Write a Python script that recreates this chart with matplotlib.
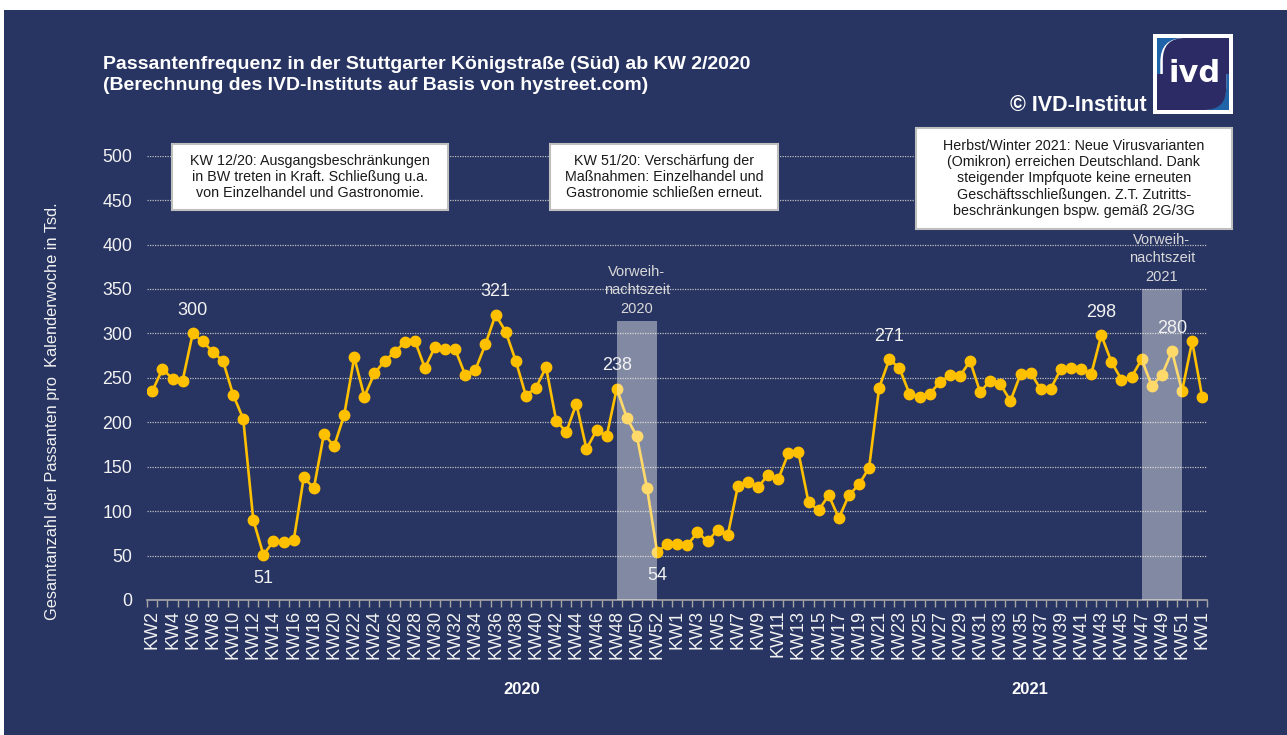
import matplotlib
matplotlib.use("Agg")
import matplotlib.pyplot as plt
from matplotlib.patches import Rectangle, FancyBboxPatch
import numpy as np

plt.rcParams['font.family'] = ['Liberation Sans', 'DejaVu Sans']

# ---------------- data ----------------
values_2020 = [235, 260, 249, 247, 300, 291, 279, 269, 231, 204, 90, 51, 66, 65, 67, 138,
               126, 187, 173, 208, 273, 229, 255, 269, 279, 290, 292, 261, 285, 282, 282,
               253, 259, 288, 321, 302, 269, 230, 239, 262, 202, 189, 221, 170, 191, 184,
               238, 205, 184, 126, 54, 63]               # KW2 .. KW53 (2020)
values_2021 = [63, 62, 76, 66, 79, 73, 128, 133, 127, 141, 136, 165, 166, 110, 101, 118,
               92, 118, 130, 149, 239, 271, 261, 232, 229, 232, 245, 253, 252, 269, 234,
               247, 243, 224, 254, 256, 237, 238, 260, 261, 260, 254, 298, 268, 248, 251,
               271, 241, 253, 280, 235, 291]             # KW1 .. KW52 (2021)
values_2022 = [228]                                      # KW1 (2022)

weeks_2020 = list(range(2, 54))
weeks_2021 = list(range(1, 53))
weeks_2022 = [1]

values = values_2020 + values_2021 + values_2022
week_labels = ["KW%d" % w for w in weeks_2020 + weeks_2021 + weeks_2022]

# labelled points: (index, text, position)
point_labels = [(4, "300", "above"), (11, "51", "below"), (34, "321", "above"),
                (46, "238", "above"), (50, "54", "below"), (73, "271", "above"),
                (94, "298", "above"), (101, "280", "above")]

# pre-Christmas shading (start index, end index, height, label)
shades = [(46, 50, 314, "Vorweih-\nnachtszeit\n2020"),
          (98, 102, 350, "Vorweih-\nnachtszeit\n2021")]

year_labels = ["2020", "2021"]

notes = ["KW 12/20: Ausgangsbeschränkungen\nin BW treten in Kraft. Schließung u.a.\nvon Einzelhandel und Gastronomie.",
         "KW 51/20: Verschärfung der\nMaßnahmen: Einzelhandel und\nGastronomie schließen erneut.",
         "Herbst/Winter 2021: Neue Virusvarianten\n(Omikron) erreichen Deutschland. Dank\nsteigender Impfquote keine erneuten\nGeschäftsschließungen. Z.T. Zutritts-\nbeschränkungen bspw. gemäß 2G/3G"]

title = "Passantenfrequenz in der Stuttgarter Königstraße (Süd) ab KW 2/2020\n(Berechnung des IVD-Instituts auf Basis von hystreet.com)"
ylabel = "Gesamtanzahl der Passanten pro  Kalenderwoche in Tsd."

# ---------------- styling ----------------
W, H = 1287, 735
NAVY = '#283562'
GOLD = '#FFC000'
TXT = '#F2F2F2'

fig = plt.figure(figsize=(W / 100, H / 100), dpi=100, facecolor='white')

def fx(x):
    return x / W

def fy(y):
    return 1 - y / H

fig.patches.append(Rectangle((fx(4), 0), 1 - fx(4), fy(10), transform=fig.transFigure,
                             facecolor=NAVY, edgecolor='none', zorder=-5))

ax = fig.add_axes([fx(147.3), fy(600), fx(1207.3) - fx(147.3), fy(155.7) - fy(600)])
ax.set_zorder(1)
ax.set_facecolor('none')
n = len(values)
x = np.arange(n)

ax.set_xlim(-0.5, n - 0.5)
ax.set_ylim(0, 500)
ax.set_yticks(np.arange(0, 501, 50))
ax.yaxis.grid(True, linestyle=(0, (1, 1)), color='#BFBFBF', linewidth=0.9)
ax.set_axisbelow(True)
for s in ['top', 'right', 'left']:
    ax.spines[s].set_visible(False)
ax.spines['bottom'].set_color('#A6A6A6')
ax.spines['bottom'].set_linewidth(1.2)
ax.tick_params(axis='y', length=0, labelsize=12.8, labelcolor=TXT, pad=11)

ax.set_xticks(x[::2])
ax.set_xticklabels(week_labels[::2], rotation=90, fontsize=13, color=TXT)
ax.set_xticks(np.arange(-0.5, n, 1), minor=True)
ax.tick_params(axis='x', which='major', length=0, pad=7)
ax.tick_params(axis='x', which='minor', length=5, color='#A6A6A6', width=1)

ax.plot(x, values, color=GOLD, linewidth=1.9, marker='o', markersize=7.5,
        markerfacecolor=GOLD, markeredgecolor=GOLD, zorder=3)

for s0, s1, h, lab in shades:
    ax.fill_between([s0, s1], 0, h, color='white', alpha=0.42, linewidth=0, zorder=4)
    ax.text((s0 + s1) / 2, h + 6, lab, ha='center', va='bottom', fontsize=10.5,
            color='#D9D9D9', linespacing=1.38, zorder=5)

for i, t, pos in point_labels:
    off = 16.5 if pos == 'above' else -17
    ax.annotate(t, (x[i], values[i]), xytext=(0, off), textcoords='offset points',
                ha='center', va='center', fontsize=13, color=TXT, zorder=6)

# year labels
fig.text(fx(522), fy(689), year_labels[0], ha='center', va='center', fontsize=12,
         fontweight='bold', color='white')
fig.text(fx(1030), fy(689), year_labels[1], ha='center', va='center', fontsize=12,
         fontweight='bold', color='white')

# y label
fig.text(fx(52.5), fy(411), ylabel, rotation=90, ha='center', va='center',
         fontsize=11.8, color=TXT)

# title
fig.text(fx(103), fy(75), title, ha='left', va='center', fontsize=14,
         fontweight='bold', color='white', linespacing=1.3)
fig.text(fx(1147), fy(105.5), "© IVD-Institut", ha='right', va='center', fontsize=15.5,
         fontweight='bold', color='white')

# annotation boxes
boxes = [(171.7, 144, 447.7, 210), (550.3, 144, 778.3, 210), (915.7, 128, 1232, 228.7)]
for (x0, y0, x1, y1), txt in zip(boxes, notes):
    fig.patches.append(Rectangle((fx(x0), fy(y1)), fx(x1) - fx(x0), fy(y0) - fy(y1),
                                 transform=fig.transFigure, facecolor='white',
                                 edgecolor='#BFBFBF', linewidth=1.5, zorder=7))
    fig.text(fx((x0 + x1) / 2), fy((y0 + y1) / 2), txt, ha='center', va='center',
             fontsize=10.25, color='#1a1a1a', linespacing=1.2, zorder=8)

# logo
lax = fig.add_axes([fx(1153.3), fy(114), fx(80), fy(0) - fy(80)])
lax.set_zorder(2)
lax.set_xlim(0, 80)
lax.set_ylim(0, 80)
lax.axis('off')
LOGO_NAVY = '#2C2B66'
lax.add_patch(Rectangle((0, 0), 80, 80, facecolor='white', edgecolor='none'))
lax.add_patch(Rectangle((4, 4), 72, 72, facecolor='#1F64A8', edgecolor='none'))
lax.add_patch(FancyBboxPatch((7, 4), 66, 72, boxstyle="round,pad=0,rounding_size=24",
                             facecolor='white', edgecolor='none'))
lax.add_patch(FancyBboxPatch((9.5, 4), 63.5, 72, boxstyle="round,pad=0,rounding_size=22",
                             facecolor=LOGO_NAVY, edgecolor='none'))
lax.add_patch(Rectangle((40, 40), 36, 36, facecolor=LOGO_NAVY, edgecolor='none'))
lax.add_patch(Rectangle((4, 4), 36, 36, facecolor=LOGO_NAVY, edgecolor='none'))
lax.text(41, 41, "ivd", ha='center', va='center', fontsize=22, fontweight='bold',
         color='white', family='DejaVu Sans')

fig.savefig('out.png', dpi=100, facecolor='white')
